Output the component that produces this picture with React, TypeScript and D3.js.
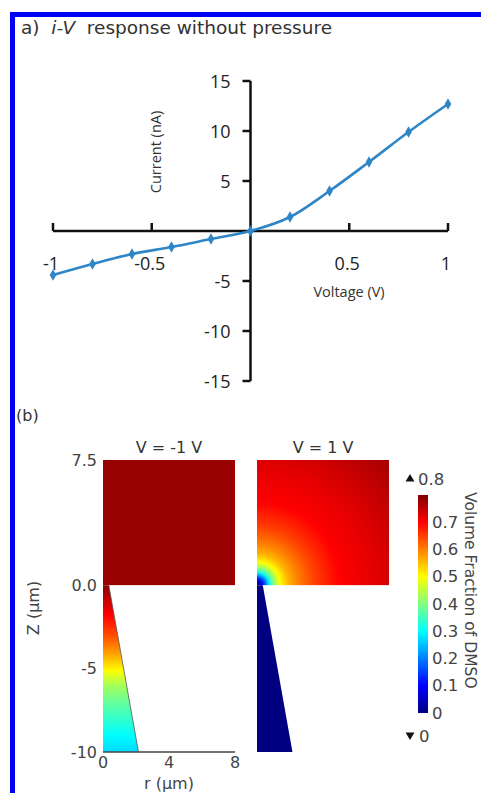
import React from "react";
import * as d3 from "d3";

// ---- Panel (a): i-V curve without pressure ----
const voltage = [-1, -0.8, -0.6, -0.4, -0.2, 0, 0.2, 0.4, 0.6, 0.8, 1];
const current = [-4.4, -3.3, -2.3, -1.6, -0.8, 0, 1.4, 4.0, 6.9, 9.9, 12.7];
const xTicks = [-1, -0.5, 0.5, 1];
const xTickLabels = ["-1", "-0.5", "0.5", "1"];
const yTicks = [-15, -10, -5, 5, 10, 15];

// ---- Panel (b): DMSO volume fraction fields ----
// Pipette interior profile at V = -1 V (value vs axial position z, µm)
const coneZ = [0, -1, -2, -3, -4, -5, -6, -7, -8, -9, -10];
const coneVal = [0.79, 0.74, 0.69, 0.64, 0.58, 0.51, 0.43, 0.38, 0.34, 0.3, 0.27];
// Bath at V = -1 V is uniform
const bathValNeg = 0.78;
// Bath at V = 1 V: value vs distance from the pipette tip (µm)
const tipDist = [0, 0.3, 0.55, 0.75, 1.0, 1.4, 1.9, 2.5, 3.5, 5, 7, 9, 11];
const tipVal = [0.0, 0.08, 0.2, 0.3, 0.4, 0.5, 0.56, 0.6, 0.65, 0.7, 0.72, 0.745, 0.77];
// Pipette interior at V = 1 V
const coneValPos = 0.0;
// Pipette geometry (radius at tip z=0 and at z=-10)
const tipRadius = 0.35;
const baseRadius = 2.15;

const zTicks = [7.5, 0, -5, -10];
const zTickLabels = ["7.5", "0.0", "-5", "-10"];
const rTicks = [0, 4, 8];
const cbTicks = [0, 0.1, 0.2, 0.3, 0.4, 0.5, 0.6, 0.7];
const cbMax = 0.8;

const jet = (t: number) => {
  const c = (v: number) => Math.max(0, Math.min(1, v));
  const r = c(1.5 - Math.abs(4 * t - 3));
  const g = c(1.5 - Math.abs(4 * t - 2));
  const b = c(1.5 - Math.abs(4 * t - 1));
  return d3.rgb(r * 255, g * 255, b * 255).formatHex();
};
const color = (v: number) => jet(Math.max(0, Math.min(1, v / cbMax)));

export default function App() {
  // scales for panel (a)
  const x = d3.scaleLinear().domain([-1, 1]).range([53, 448]);
  const y = d3.scaleLinear().domain([-15, 15]).range([381, 81]);
  const line = d3
    .line<number>()
    .x((_, i) => x(voltage[i]))
    .y((d) => y(d))
    .curve(d3.curveCatmullRom);
  const diamond = d3.symbol().type(d3.symbolDiamond).size(38)();

  // scales for panel (b)
  const z = d3.scaleLinear().domain([-10, 7.5]).range([752, 460]);
  const rL = d3.scaleLinear().domain([0, 8]).range([103, 235]);
  const rR = d3.scaleLinear().domain([0, 8]).range([257, 389]);
  const coneScale = d3.scaleLinear().domain(coneZ).range(coneVal);
  const tipScale = d3.scaleLinear().domain(tipDist).range(tipVal);
  const cb = d3.scaleLinear().domain([0, cbMax]).range([713, 495]);

  const N = 80;
  const coneStops = d3.range(N + 1).map((i) => {
    const o = i / N;
    return { o, c: color(coneScale(-10 * o)) };
  });
  const maxD = tipDist[tipDist.length - 1];
  const radialStops = d3.range(N + 1).map((i) => {
    const o = i / N;
    return { o, c: color(tipScale(maxD * o)) };
  });

  const conePath = (r: d3.ScaleLinear<number, number>) =>
    `M${r(0)},${z(0)}L${r(tipRadius)},${z(0)}L${r(baseRadius)},${z(-10)}L${r(0)},${z(-10)}Z`;

  const tri = d3.symbol().type(d3.symbolTriangle).size(34)();
  const sans = "'DejaVu Sans', sans-serif";
  const chartFont = "'Open Sans', sans-serif";

  return (
    <svg
      width={481}
      height={793}
      style={{ position: "absolute", left: 0, top: 0, background: "#fff" }}
    >
      <defs>
        <linearGradient id="coneGrad" gradientUnits="userSpaceOnUse" x1={0} y1={z(0)} x2={0} y2={z(-10)}>
          {coneStops.map((s, i) => (
            <stop key={i} offset={s.o} stopColor={s.c} />
          ))}
        </linearGradient>
        <radialGradient id="tipGrad" gradientUnits="userSpaceOnUse" cx={rR(0)} cy={z(0)} r={rR(maxD) - rR(0)}>
          {radialStops.map((s, i) => (
            <stop key={i} offset={s.o} stopColor={s.c} />
          ))}
        </radialGradient>
        <linearGradient id="cbGrad" x1={0} y1={1} x2={0} y2={0}>
          {[0, 1 / 8, 3 / 8, 5 / 8, 7 / 8, 1].map((t, i) => (
            <stop key={i} offset={t} stopColor={jet(t)} />
          ))}
        </linearGradient>
      </defs>

      {/* frame */}
      <rect x={12.5} y={14.5} width={520} height={820} fill="none" stroke="#0000f5" strokeWidth={5} />

      {/* ---- panel (a) ---- */}
      <text x={21} y={34} fontFamily={sans} fontSize={18.5} fill="#333" style={{ whiteSpace: "pre" }}>
        {"a)  "}
        <tspan fontStyle="italic">i-V</tspan>
        {"  response without pressure"}
      </text>

      <g stroke="#111" strokeWidth={2.5} fill="none">
        <line x1={x(-1)} x2={x(1)} y1={y(0)} y2={y(0)} />
        <line x1={x(0)} x2={x(0)} y1={y(15)} y2={y(-15)} />
        {xTicks.map((t) => (
          <line key={t} x1={x(t)} x2={x(t)} y1={y(0)} y2={y(0) - 8} />
        ))}
        {yTicks.map((t) => (
          <line key={t} x1={x(0)} x2={x(0) - 8} y1={y(t)} y2={y(t)} />
        ))}
      </g>
      <g fontFamily={chartFont} fontSize={18} fill="#222">
        {xTicks.map((t, i) => (
          <text key={t} x={x(t) - 2} y={y(0) + 39} textAnchor="middle">
            {xTickLabels[i]}
          </text>
        ))}
        {yTicks.map((t) => (
          <text key={t} x={x(0) - 20} y={y(t)} textAnchor="end" dominantBaseline="central">
            {t}
          </text>
        ))}
      </g>
      <text x={349} y={297} textAnchor="middle" fontFamily={chartFont} fontSize={14.5} fill="#333">
        Voltage (V)
      </text>
      <text
        transform={`translate(161,152) rotate(-90)`}
        textAnchor="middle"
        fontFamily={chartFont}
        fontSize={14.5}
        fill="#333"
      >
        Current (nA)
      </text>

      <path d={line(current) ?? ""} fill="none" stroke="#2f86c6" strokeWidth={2.6} />
      {current.map((c, i) => (
        <path key={i} d={diamond ?? ""} transform={`translate(${x(voltage[i])},${y(c)})`} fill="#2f86c6" />
      ))}

      {/* ---- panel (b) ---- */}
      <text x={16} y={421} fontFamily={sans} fontSize={16} fill="#333">
        (b)
      </text>

      {/* V = -1 V */}
      <text x={(rL(0) + rL(8)) / 2} y={453} textAnchor="middle" fontFamily={sans} fontSize={16} fill="#333">
        V = -1 V
      </text>
      <rect x={rL(0)} y={z(7.5)} width={rL(8) - rL(0)} height={z(0) - z(7.5)} fill={color(bathValNeg)} />
      <path d={conePath(rL)} fill="url(#coneGrad)" />
      <line x1={rL(tipRadius)} y1={z(0)} x2={rL(baseRadius)} y2={z(-10)} stroke="#555" strokeWidth={0.8} />
      <line x1={rL(0)} x2={rL(8)} y1={z(-10)} y2={z(-10)} stroke="#444" strokeWidth={1.5} />
      <g fontFamily={sans} fontSize={16} fill="#444">
        {zTicks.map((t, i) => (
          <text key={t} x={97} y={z(t)} textAnchor="end" dominantBaseline="central">
            {zTickLabels[i]}
          </text>
        ))}
        {rTicks.map((t) => (
          <text key={t} x={rL(t)} y={768} textAnchor="middle">
            {t}
          </text>
        ))}
        <text x={rL(4)} y={789} textAnchor="middle">
          r (µm)
        </text>
        <text transform="translate(39,608) rotate(-90)" textAnchor="middle">
          Z (µm)
        </text>
      </g>

      {/* V = 1 V */}
      <text x={(rR(0) + rR(8)) / 2} y={453} textAnchor="middle" fontFamily={sans} fontSize={16} fill="#333">
        V = 1 V
      </text>
      <rect x={rR(0)} y={z(7.5)} width={rR(8) - rR(0)} height={z(0) - z(7.5)} fill="url(#tipGrad)" />
      <path d={conePath(rR)} fill={color(coneValPos)} />

      {/* colour bar */}
      <rect x={418} y={cb(cbMax)} width={10} height={cb(0) - cb(cbMax)} fill="url(#cbGrad)" />
      <g fontFamily={sans} fontSize={16.5} fill="#444">
        {cbTicks.map((t) => (
          <text key={t} x={432} y={cb(t)} dominantBaseline="central">
            {t}
          </text>
        ))}
        <path d={tri ?? ""} transform="translate(410,479)" fill="#111" />
        <text x={418} y={479} dominantBaseline="central">
          {cbMax}
        </text>
        <path d={tri ?? ""} transform="translate(410,735) rotate(180)" fill="#111" />
        <text x={419} y={736} dominantBaseline="central">
          0
        </text>
        <text transform="translate(465,492) rotate(90)" fontSize={15.5}>
          Volume Fraction of DMSO
        </text>
      </g>
    </svg>
  );
}
